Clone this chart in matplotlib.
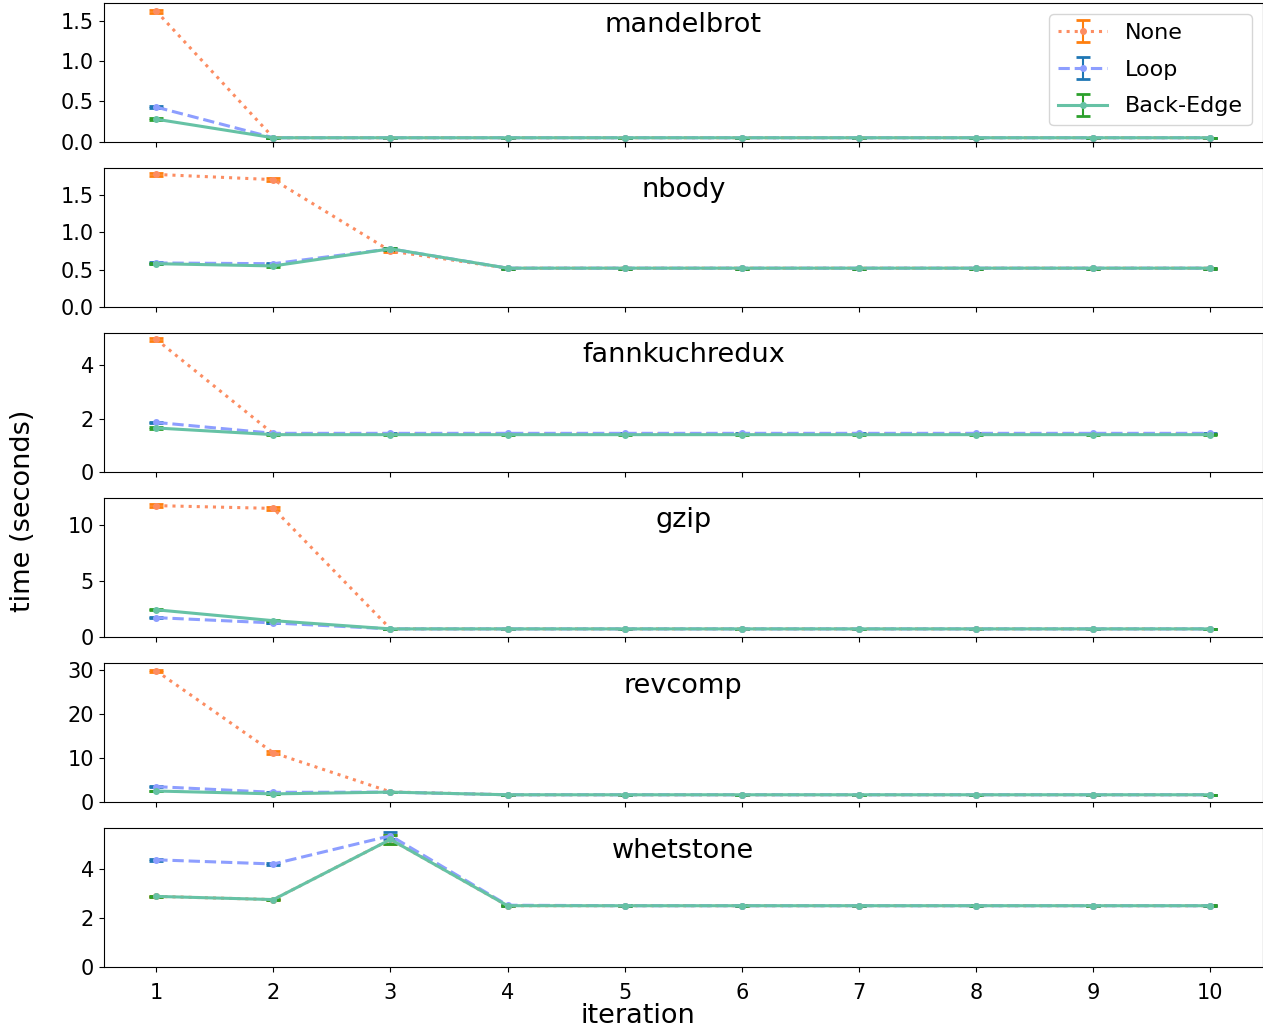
import numpy as np
import matplotlib
matplotlib.use('Agg')
import matplotlib.pyplot as plt

iterations = [1, 2, 3, 4, 5, 6, 7, 8, 9, 10]
configs = ['None', 'Loop', 'Back-Edge']
benchmarks = ['mandelbrot', 'nbody', 'fannkuchredux', 'gzip', 'revcomp', 'whetstone']

# rows: None, Loop, Back-Edge
mandelbrot = [[1.62, 0.05, 0.05, 0.05, 0.05, 0.05, 0.05, 0.05, 0.05, 0.05],
              [0.43, 0.05, 0.05, 0.05, 0.05, 0.05, 0.05, 0.05, 0.05, 0.05],
              [0.28, 0.05, 0.05, 0.05, 0.05, 0.05, 0.05, 0.05, 0.05, 0.05]]
mandelbrot_err = [[0.02, 0.005, 0.002, 0.002, 0.002, 0.002, 0.002, 0.002, 0.002, 0.002],
                  [0.01, 0.003, 0.002, 0.002, 0.002, 0.002, 0.002, 0.002, 0.002, 0.002],
                  [0.01, 0.003, 0.002, 0.002, 0.002, 0.002, 0.002, 0.002, 0.002, 0.002]]
nbody = [[1.78, 1.71, 0.75, 0.52, 0.52, 0.52, 0.52, 0.52, 0.52, 0.52],
         [0.59, 0.58, 0.78, 0.52, 0.52, 0.52, 0.52, 0.52, 0.52, 0.52],
         [0.58, 0.55, 0.78, 0.52, 0.52, 0.52, 0.52, 0.52, 0.52, 0.52]]
nbody_err = [[0.02, 0.02, 0.01, 0.005, 0.005, 0.005, 0.005, 0.005, 0.005, 0.005],
             [0.01, 0.01, 0.01, 0.005, 0.005, 0.005, 0.005, 0.005, 0.005, 0.005],
             [0.01, 0.01, 0.01, 0.005, 0.005, 0.005, 0.005, 0.005, 0.005, 0.005]]
fannkuchredux = [[4.98, 1.43, 1.43, 1.43, 1.43, 1.43, 1.43, 1.43, 1.43, 1.43],
                 [1.86, 1.45, 1.45, 1.45, 1.45, 1.45, 1.45, 1.45, 1.45, 1.45],
                 [1.65, 1.40, 1.40, 1.40, 1.40, 1.40, 1.40, 1.40, 1.40, 1.40]]
fannkuchredux_err = [[0.05, 0.01, 0.01, 0.01, 0.01, 0.01, 0.01, 0.01, 0.01, 0.01],
                     [0.03, 0.01, 0.01, 0.01, 0.01, 0.01, 0.01, 0.01, 0.01, 0.01],
                     [0.03, 0.01, 0.01, 0.01, 0.01, 0.01, 0.01, 0.01, 0.01, 0.01]]
gzip = [[11.7, 11.45, 0.72, 0.72, 0.72, 0.72, 0.72, 0.72, 0.72, 0.72],
        [1.72, 1.25, 0.72, 0.72, 0.72, 0.72, 0.72, 0.72, 0.72, 0.72],
        [2.42, 1.45, 0.72, 0.72, 0.72, 0.72, 0.72, 0.72, 0.72, 0.72]]
gzip_err = [[0.1, 0.1, 0.02, 0.02, 0.02, 0.02, 0.02, 0.02, 0.02, 0.02],
            [0.05, 0.03, 0.02, 0.02, 0.02, 0.02, 0.02, 0.02, 0.02, 0.02],
            [0.05, 0.03, 0.02, 0.02, 0.02, 0.02, 0.02, 0.02, 0.02, 0.02]]
revcomp = [[29.8, 11.2, 2.3, 1.65, 1.65, 1.65, 1.65, 1.65, 1.65, 1.65],
           [3.5, 2.2, 2.25, 1.65, 1.65, 1.65, 1.65, 1.65, 1.65, 1.65],
           [2.5, 1.85, 2.25, 1.65, 1.65, 1.65, 1.65, 1.65, 1.65, 1.65]]
revcomp_err = [[0.3, 0.3, 0.05, 0.03, 0.03, 0.03, 0.03, 0.03, 0.03, 0.03],
               [0.1, 0.05, 0.05, 0.03, 0.03, 0.03, 0.03, 0.03, 0.03, 0.03],
               [0.1, 0.05, 0.05, 0.03, 0.03, 0.03, 0.03, 0.03, 0.03, 0.03]]
whetstone = [[2.88, 2.75, 5.2, 2.5, 2.5, 2.5, 2.5, 2.5, 2.5, 2.5],
             [4.37, 4.2, 5.35, 2.52, 2.5, 2.5, 2.5, 2.5, 2.5, 2.5],
             [2.88, 2.75, 5.2, 2.5, 2.5, 2.5, 2.5, 2.5, 2.5, 2.5]]
whetstone_err = [[0.03, 0.03, 0.2, 0.02, 0.02, 0.02, 0.02, 0.02, 0.02, 0.02],
                 [0.03, 0.03, 0.15, 0.02, 0.02, 0.02, 0.02, 0.02, 0.02, 0.02],
                 [0.03, 0.03, 0.2, 0.02, 0.02, 0.02, 0.02, 0.02, 0.02, 0.02]]

data = [mandelbrot, nbody, fannkuchredux, gzip, revcomp, whetstone]
errs = [mandelbrot_err, nbody_err, fannkuchredux_err, gzip_err, revcomp_err, whetstone_err]

line_colors = ['#fc8d62', '#8d9eff', '#66c2a5']
err_colors = ['tab:orange', 'tab:blue', 'tab:green']
styles = [':', '--', '-']
yticks = [[0, 0.5, 1.0, 1.5], [0, 0.5, 1.0, 1.5], [0, 2, 4], [0, 5, 10], [0, 10, 20, 30], [0, 2, 4]]

plt.rcParams['font.size'] = 15
fig, axes = plt.subplots(6, 1, sharex=True, figsize=(12.63, 10.31), dpi=100)
fig.subplots_adjust(left=0.082, right=1.0, top=0.997, bottom=0.062, hspace=0.19)

for k, ax in enumerate(axes):
    for c in range(3):
        ax.errorbar(iterations, data[k][c], yerr=errs[k][c], color=line_colors[c],
                    ecolor=err_colors[c], linestyle=styles[c], linewidth=2.2,
                    marker='o', markersize=4, capsize=5, capthick=2, elinewidth=1.5,
                    label=configs[c])
    ax.set_ylim(bottom=0)
    ax.set_yticks(yticks[k])
    ax.tick_params(labelsize=15)
    ax.tick_params(axis='x', pad=8)
    ax.text(0.5, 0.84, benchmarks[k], transform=ax.transAxes, ha='center', va='center', fontsize=19.5)

axes[0].legend(loc='upper right', fontsize=16, handlelength=2.2, borderaxespad=0.5,
               labelspacing=0.75)
axes[-1].set_xticks(iterations)
fig.text(0.505, 0.002, 'iteration', ha='center', va='bottom', fontsize=19.5)
fig.text(0.008, 0.505, 'time (seconds)', rotation=90, ha='left', va='center', fontsize=19.5)

fig.savefig('out.png')
